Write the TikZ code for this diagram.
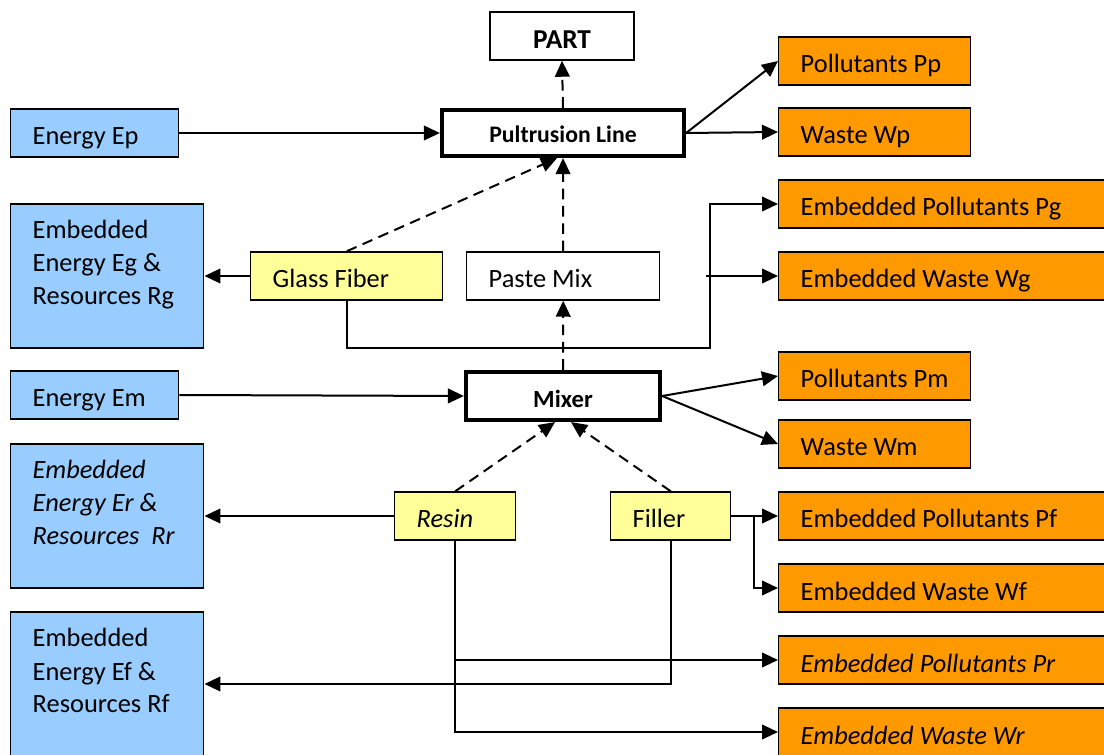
\documentclass[tikz,border=0pt]{standalone}
\usepackage{fontspec}
\setmainfont{Carlito}
\usetikzlibrary{arrows.meta}

\definecolor{energyblue}{RGB}{153,204,255}
\definecolor{wasteorange}{RGB}{255,153,0}
\definecolor{inputyellow}{RGB}{255,255,153}

\tikzset{every picture/.style={line width=1.5pt},
  flowbox/.style={draw, line width=1.1pt, anchor=west, align=flush left, inner xsep=16.5pt, inner ysep=0pt,
    text height=27pt, text depth=9pt, font=\fontsize{19.8}{24.75}\selectfont},
  shortbox/.style={flowbox, fill=wasteorange, text width=111pt},
  longbox/.style={flowbox, fill=wasteorange, text width=222pt},
  tallbox/.style={flowbox, fill=energyblue, text width=111.75pt, text height=26.25pt, text depth=81.75pt},
  procbox/.style={draw, line width=3.2pt, inner sep=0pt, align=center, text depth=0pt},
  flow/.style={-{Triangle[length=12pt,width=11pt]}},
  dashflow/.style={flow, dash pattern=on 8pt off 5pt}
}

\begin{document}
\begin{tikzpicture}[x=0.75pt,y=0.75pt,yscale=-1,xscale=1]
\useasboundingbox (0,0) rectangle (1104,755);
\clip (0,0) rectangle (1104,755);

%Process boxes
\node[procbox, minimum width=108pt, minimum height=36pt, line width=1.1pt, text height=19pt, font=\bfseries\fontsize{20.5}{24}\selectfont] (part) at (562,36) {PART};
\node[procbox, minimum width=181.5pt, minimum height=34.5pt, text height=14.5pt, font=\bfseries\fontsize{17.8}{21}\selectfont] (pult) at (563,133) {Pultrusion Line};
\node[procbox, minimum width=145.5pt, minimum height=36pt, text height=18pt, font=\bfseries\fontsize{18.5}{22}\selectfont] (mixer) at (563,396) {Mixer};

%Energy and resources
\node[flowbox, fill=energyblue, text width=93pt] (ep) at (10,133) {Energy Ep};
\node[flowbox, fill=energyblue, text width=93pt] (em) at (10,395) {Energy Em};
\node[tallbox] (eg) at (10,276) {Embedded\\Energy Eg \&\\Resources Rg};
\node[tallbox, font=\itshape\fontsize{19.8}{24.75}\selectfont] (er) at (10,516) {Embedded\\Energy Er \&\\Resources\ \ Rr};
\node[tallbox] (ef) at (10,684) {Embedded\\Energy Ef \&\\Resources Rf};

%Materials
\node[flowbox, fill=inputyellow, text width=111pt] (glass) at (250,276) {Glass Fiber};
\node[flowbox, text width=111.75pt] (paste) at (466,276) {Paste Mix};
\node[flowbox, fill=inputyellow, text width=57.75pt, font=\itshape\fontsize{19.8}{24.75}\selectfont] (resin) at (394,516) {Resin};
\node[flowbox, fill=inputyellow, text width=57pt] (filler) at (610,516) {Filler};

%Pollutants and waste
\node[shortbox] (pp) at (778,61) {Pollutants Pp};
\node[shortbox] (wp) at (778,132) {Waste Wp};
\node[longbox] (pg) at (778,204) {Embedded Pollutants Pg};
\node[longbox] (wg) at (778,276) {Embedded Waste Wg};
\node[shortbox] (pm) at (778,376) {Pollutants Pm};
\node[shortbox] (wm) at (778,444) {Waste Wm};
\node[longbox] (pf) at (778,516) {Embedded Pollutants Pf};
\node[longbox] (wf) at (778,588) {Embedded Waste Wf};
\node[longbox, font=\itshape\fontsize{19.8}{24.75}\selectfont] (pr) at (778,660) {Embedded Pollutants Pr};
\node[longbox, font=\itshape\fontsize{19.8}{24.75}\selectfont] (wr) at (778,732) {Embedded Waste Wr};

%Junctions
\coordinate (gbus) at (710,348);
\coordinate (fbus) at (754,516);

%Straight Lines
\draw[dashflow] (pult.north) -- (part.south);
\draw[flow] (ep.east) -- (pult.west);
\draw[flow] (pult.east) -- (pp.west);
\draw[flow] (pult.east) -- (wp.west);
\draw[dashflow] (glass.north) -- ([xshift=-4.5pt]pult.south);
\draw[dashflow] (paste.north) -- (pult.south);
\draw[flow] (glass.west) -- (eg.east);
\draw[flow] (glass.south) |- (gbus) |- (pg.west);
\draw[flow] ([xshift=-3pt]gbus |- wg.west) -- (wg.west);
\draw[dashflow] (mixer.north) -- (paste.south);
\draw[flow] (em.east) -- (mixer.west);
\draw[flow] (mixer.east) -- (pm.west);
\draw[flow] (mixer.east) -- (wm.west);
\draw[dashflow] (resin.north) -- ([xshift=-6pt]mixer.south);
\draw[dashflow] (filler.north) -- ([xshift=6pt]mixer.south);
\draw[flow] (resin.west) -- (er.east);
\draw[flow] (filler.east) -- (pf.west);
\draw[flow] (fbus) |- (wf.west);
\draw[flow] (resin.south) |- (wr.west);
\draw[flow] (resin.south |- pr.west) -- (pr.west);
\draw[flow] (filler.south) |- (ef.east);

\end{tikzpicture}
\end{document}
